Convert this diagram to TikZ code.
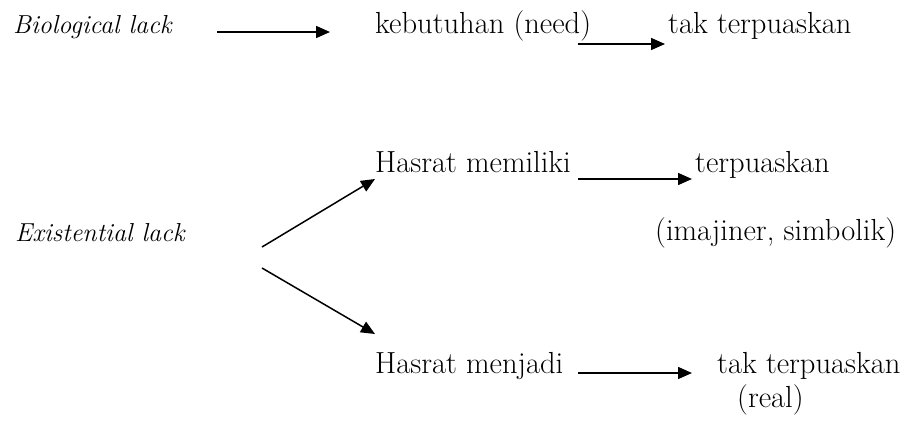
\documentclass[tikz,border=0pt]{standalone}
\usetikzlibrary{arrows.meta}
\tikzset{
  lbl/.style={anchor=base west,inner sep=0pt,font=\fontsize{30.5}{36}\selectfont},
  lblit/.style={anchor=base west,inner sep=0pt,font=\fontsize{26}{31}\selectfont\itshape},
  arr/.style={line width=1.5pt,-{Triangle[length=14pt,width=12pt]}}
}
\begin{document}
\begin{tikzpicture}[x=1pt,y=-1pt]
\useasboundingbox (0,0) rectangle (908,424);
% first row
\node[lblit] (bio) at (13,33) {Biological lack};
\node[lbl] (need) at (375,33) {kebutuhan (need)};
\node[lbl] (tak1) at (668,33) {tak terpuaskan};
\coordinate (b1) at (217,32);
\coordinate (b2) at (330,32);
\coordinate (n1) at (578,44);
\coordinate (n2) at (665,44);
\draw[arr] (b1) -- (b2);
\draw[arr] (n1) -- (n2);
% second part
\node[lblit] (exist) at (15,241) {Existential lack};
\node[lbl] (milik) at (375,172) {Hasrat memiliki};
\node[lbl] (puas) at (695,172) {terpuaskan};
\node[lbl] (imaj) at (655,240) {(imajiner, simbolik)};
\node[lbl] (jadi) at (375,373) {Hasrat menjadi};
\node[lbl] (tak2) at (717,373) {tak terpuaskan};
\node[lbl] (real) at (737,407) {(real)};
\coordinate (e1) at (262,247);
\coordinate (e2) at (375,179);
\coordinate (e3) at (262,268);
\coordinate (e4) at (375,334);
\coordinate (m1) at (578,179);
\coordinate (m2) at (692,179);
\coordinate (j1) at (578,373);
\coordinate (j2) at (692,373);
\draw[arr] (e1) -- (e2);
\draw[arr] (e3) -- (e4);
\draw[arr] (m1) -- (m2);
\draw[arr] (j1) -- (j2);
\end{tikzpicture}
\end{document}
